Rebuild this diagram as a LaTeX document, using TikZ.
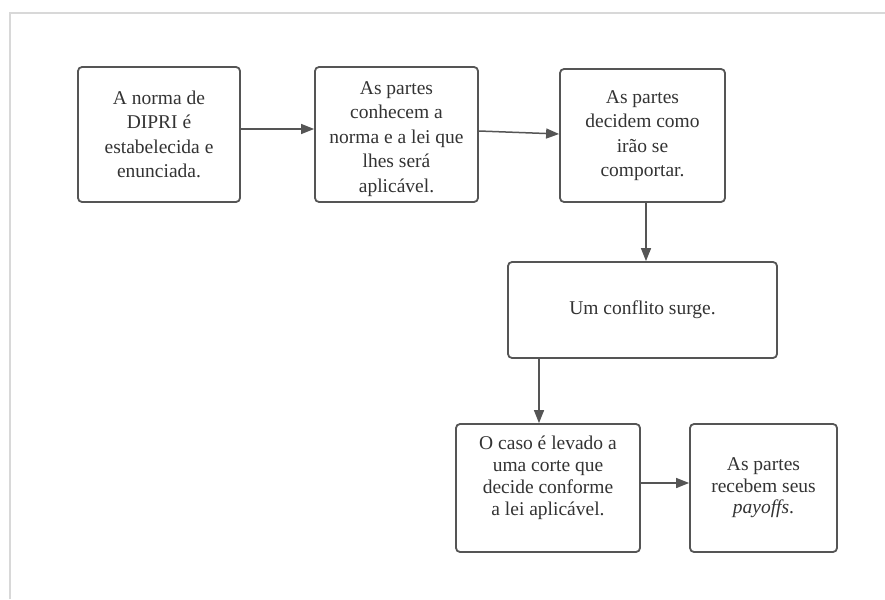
\documentclass[tikz,border=0pt]{standalone}
\usepackage{fontspec}
\setmainfont{Liberation Serif}
\usetikzlibrary{arrows.meta}
\definecolor{boxline}{HTML}{555555}
\definecolor{txt}{HTML}{333333}
\definecolor{frame}{HTML}{D8D8D8}
\tikzset{
  stepbox/.style={draw=boxline, line width=1.8pt, rounded corners=4pt, fill=white,
    inner sep=0pt, align=center, text=txt, font=\fontsize{19.5pt}{24.5pt}\selectfont},
  steptext/.style={inner sep=0pt, align=center, text=txt, font=\fontsize{19.5pt}{24.5pt}\selectfont},
  flow/.style={draw=boxline, line width=1.5pt, -{Triangle[length=13pt,width=10pt]}}
}
\begin{document}
\begin{tikzpicture}[x=1pt,y=-1pt]
\useasboundingbox (0,0) rectangle (885,599);
\fill[white] (0,0) rectangle (885,599);
\draw[frame, line width=2.5pt] (10,599) -- (10,13) -- (885,13);
\node[stepbox, minimum width=162pt, minimum height=135pt] (b1) at (159,134.5)
  {A norma de\\DIPRI é\\estabelecida e\\enunciada.};
\node[stepbox, minimum width=163pt, minimum height=135pt] (b2) at (396.5,134.5) {};
\node[steptext] (b2t) at (396.5,139)
  {As partes\\conhecem a\\norma e a lei que\\lhes será\\aplicável.};
\node[stepbox, minimum width=165pt, minimum height=133pt] (b3) at (642.5,135.5)
  {As partes\\decidem como\\irão se\\comportar.};
\node[stepbox, minimum width=269pt, minimum height=96pt] (b4) at (642.5,310)
  {Um conflito surge.};
\node[stepbox, minimum width=184pt, minimum height=128pt] (b5) at (548,488) {};
\node[steptext, font=\fontsize{19.5pt}{22pt}\selectfont] (b5t) at (548,478)
  {O caso é levado a\\uma corte que\\decide conforme\\a lei aplicável.};
\node[stepbox, minimum width=147pt, minimum height=128pt,
  font=\fontsize{19.5pt}{21.5pt}\selectfont] (b6) at (763.5,488)
  {As partes\\recebem seus\\\textit{payoffs}.};
\draw[flow] (b1.east |- 0,129) -- (b2.west |- 0,129);
\draw[flow] (b2.east |- 0,131) -- (b3.west |- 0,134);
\draw[flow] (b3.south -| 646,0) -- (b4.north -| 646,0);
\draw[flow] (b4.south -| 539,0) -- (b5.north -| 539,0);
\draw[flow] (b5.east |- 0,483) -- (b6.west |- 0,483);
\end{tikzpicture}
\end{document}
